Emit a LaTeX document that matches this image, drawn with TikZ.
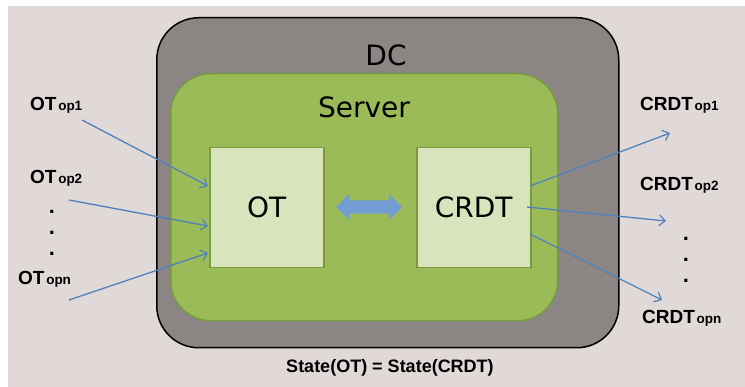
\documentclass[tikz,border=0pt]{standalone}
\usepackage{fontspec}
\setmainfont{DejaVu Sans}
\newfontfamily\arialf{Liberation Sans}
\usetikzlibrary{arrows.meta,shapes.arrows}
\definecolor{bgc}{HTML}{E1D9D8}
\definecolor{dcc}{HTML}{8B8584}
\definecolor{srvc}{HTML}{9BBB59}
\definecolor{srvb}{HTML}{7A9A42}
\definecolor{boxc}{HTML}{D8E4BC}
\definecolor{arrc}{HTML}{4F81BD}
\definecolor{darr}{HTML}{739CD2}
\tikzset{
  big/.style={font=\fontsize{28}{30}\selectfont},
  inbox/.style={draw=srvb, line width=1.5pt, fill=boxc},
  oplabel/.style={font=\arialf\bfseries, inner sep=0pt},
  flow/.style={draw=arrc, line width=1.3pt, -{Straight Barb[length=6pt,width=11pt,line width=1.2pt]}},
  dot/.style={font=\arialf\bfseries\fontsize{22}{22}\selectfont, inner sep=0pt}
}
\newcommand{\opl}[2]{{\fontsize{19}{20}\selectfont #1}\,{\fontsize{13.5}{14}\selectfont #2}}
\begin{document}
\begin{tikzpicture}[x=1pt,y=-1pt]
\useasboundingbox (0,0) rectangle (745,387);
\fill[white] (0,0) rectangle (745,387);
\fill[bgc] (8,6) rectangle (745,387);
% DC
\node[draw=black, line width=1.5pt, fill=dcc, rounded corners=42pt, minimum width=462pt, minimum height=330pt, anchor=north west] (dc) at (156,17) {};
\node[big] (dclabel) at (386,55) {DC};
% Server
\node[draw=srvb, line width=1.5pt, fill=srvc, rounded corners=40pt, minimum width=387pt, minimum height=247pt, anchor=north west] (srv) at (170,73) {};
\node[big] (srvlabel) at (364,107) {Server};
% inner boxes
\node[inbox, minimum width=114pt, minimum height=120pt, anchor=north west, big] (ot) at (209,147) {OT};
\node[inbox, minimum width=114pt, minimum height=120pt, anchor=north west, big] (crdt) at (416,147) {CRDT};
% double arrow
\node[double arrow, fill=darr, inner xsep=0pt, inner ysep=6.5pt, double arrow head extend=6.5pt, double arrow tip angle=90, minimum height=66pt] (dbl) at (369,207) {};
% left labels
\node[oplabel, anchor=base west] (ot1) at (30,111) {\opl{OT}{op1}};
\node[oplabel, anchor=base west] (ot2) at (30,184) {\opl{OT}{op2}};
\node[oplabel, anchor=base west] (otn) at (18,285) {\opl{OT}{opn}};
\node[dot] (ld1) at (52,212) {.};
\node[dot] (ld2) at (52,233) {.};
\node[dot] (ld3) at (52,254) {.};
\coordinate (s1) at (82,120);
\coordinate (s2) at (69,200);
\coordinate (s3) at (69,300);
\coordinate (e1) at (208,186);
\coordinate (e2) at (208,226);
\coordinate (e3) at (208,253);
\draw[flow] (s1) -- (e1);
\draw[flow] (s2) -- (e2);
\draw[flow] (s3) -- (e3);
% right labels
\node[oplabel, anchor=base west] (cr1) at (640,111) {\opl{CRDT}{op1}};
\node[oplabel, anchor=base west] (cr2) at (640,191) {\opl{CRDT}{op2}};
\node[oplabel, anchor=base west] (crn) at (642,324) {\opl{CRDT}{opn}};
\node[dot] (rd1) at (686,239) {.};
\node[dot] (rd2) at (686,260) {.};
\node[dot] (rd3) at (686,281) {.};
\coordinate (c1) at (530,186);
\coordinate (c2) at (527,207);
\coordinate (c3) at (530,234);
\coordinate (f1) at (670,133);
\coordinate (f2) at (666,221);
\coordinate (f3) at (662,300);
\draw[flow] (c1) -- (f1);
\draw[flow] (c2) -- (f2);
\draw[flow] (c3) -- (f3);
% bottom
\node[oplabel, font=\arialf\bfseries\fontsize{18}{20}\selectfont] (state) at (390,368) {State(OT) = State(CRDT)};
\end{tikzpicture}
\end{document}
